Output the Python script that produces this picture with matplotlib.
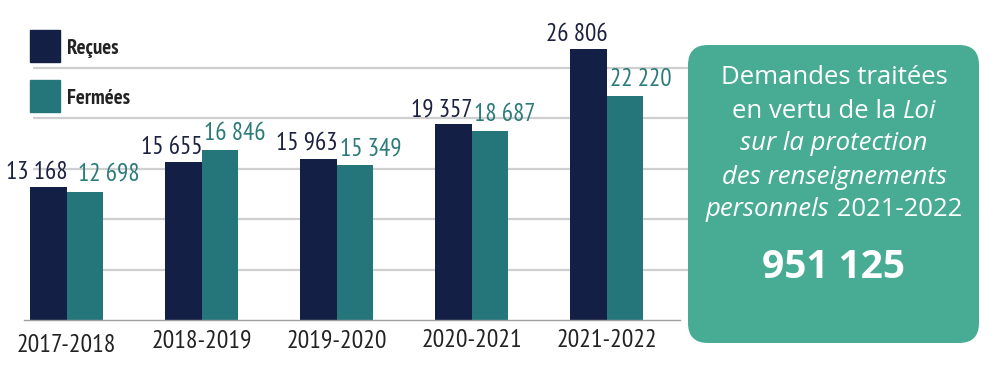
import matplotlib
matplotlib.use("Agg")
import matplotlib.pyplot as plt
from matplotlib import font_manager
from matplotlib.patches import FancyBboxPatch, Rectangle

categories = ["2017-2018", "2018-2019", "2019-2020", "2020-2021", "2021-2022"]
recues = [13168, 15655, 15963, 19357, 26806]
fermees = [12698, 16846, 15349, 18687, 22220]
value_labels_recues = ["13 168", "15 655", "15 963", "19 357", "26 806"]
value_labels_fermees = ["12 698", "16 846", "15 349", "18 687", "22 220"]
series_names = ["Reçues", "Fermées"]
grid_values = [5000, 10000, 15000, 20000, 25000]
box_total = "951 125"

NAVY = "#141f45"
TEAL = "#24767a"
BOX = "#48ac94"
NAVY_TXT = "#1c2140"
TEAL_TXT = "#2b7b79"

names = {f.name for f in font_manager.fontManager.ttflist}


def pick(cands, default="DejaVu Sans"):
    for c in cands:
        if c in names:
            return c
    return default


COND = pick(["PT Sans Narrow", "Roboto Condensed", "Fira Sans Condensed",
             "Open Sans Condensed", "Archivo Narrow", "Liberation Sans Narrow"])
BOXF = pick(["Open Sans", "Noto Sans"])

W, H = 1000, 385
fig = plt.figure(figsize=(W / 100, H / 100), dpi=100)

px_per_unit = 0.0101
base_px = 65
ax = fig.add_axes([0, 0, 1, 1])
ax.set_xlim(0, W)
ax.set_ylim(-base_px / px_per_unit, (H - base_px) / px_per_unit)
ax.axis("off")

group_step = 135
first_left = 30
bw = 36.5

for g in grid_values:
    ax.plot([33, 700], [g, g], color="#cfcfcf", lw=1.6, zorder=1, solid_capstyle="butt")
ax.plot([24, 680], [0, 0], color="#a0a0a0", lw=1.0, zorder=3)

lefts = [first_left + group_step * i for i in range(len(categories))]
ax.bar(lefts, recues, width=bw, align="edge", color=NAVY, zorder=2)
ax.bar([l + bw for l in lefts], fermees, width=bw, align="edge", color=TEAL, zorder=2)

for i, l in enumerate(lefts):
    ax.text(l + bw + 1, recues[i] + 8 / px_per_unit, value_labels_recues[i],
            ha="right", va="baseline", fontsize=18, family=COND, color=NAVY_TXT, zorder=4)
    xoff = 12 if i == 0 else 3
    ax.text(l + bw + xoff, fermees[i] + 10 / px_per_unit, value_labels_fermees[i],
            ha="left", va="baseline", fontsize=18, family=COND, color=TEAL_TXT, zorder=4)
    yoff = 5 if i == 0 else 0
    ax.text(l + bw, -(9 + yoff) / px_per_unit, categories[i], ha="center", va="top",
            fontsize=18.5, family=COND, color="#222222")

ov = fig.add_axes([0, 0, 1, 1])
ov.set_xlim(0, W)
ov.set_ylim(H, 0)
ov.axis("off")

for k, (nm, c) in enumerate(zip(series_names, [NAVY, TEAL])):
    y0 = 30 + k * 50
    ov.add_patch(Rectangle((30, y0), 30, 32, color=c, zorder=5))
    ov.text(67, y0 + 18, nm, ha="left", va="center", fontsize=15, family=COND,
            fontweight="bold", color="#222222", zorder=5)

ov.add_patch(FancyBboxPatch((688 + 20, 45 + 20), 291 - 40, 298 - 40,
                            boxstyle="round,pad=20", fc=BOX, ec="none", zorder=5))

lines = [
    [("Demandes traitées", "normal")],
    [("en vertu de la ", "normal"), ("Loi", "italic")],
    [("sur la protection", "italic")],
    [("des renseignements", "italic")],
    [("personnels", "italic"), (" 2021-2022", "normal")],
]
line_y = [78, 111, 144, 177, 210]
cx = 834
fig.canvas.draw()
r = fig.canvas.get_renderer()
for segs, y in zip(lines, line_y):
    texts = []
    for s, st in segs:
        t = ov.text(0, y, s, ha="left", va="center", fontsize=18.5, family=BOXF,
                    style=st, color="white", zorder=6)
        texts.append(t)
    widths = [t.get_window_extent(renderer=r).width for t in texts]
    total = sum(widths)
    x = cx - total / 2
    for t, w in zip(texts, widths):
        t.set_x(x)
        x += w
ov.text(cx, 268, box_total, ha="center", va="center", fontsize=28, family=BOXF,
        fontweight="bold", color="white", zorder=6)

fig.savefig("out.png", dpi=100)
